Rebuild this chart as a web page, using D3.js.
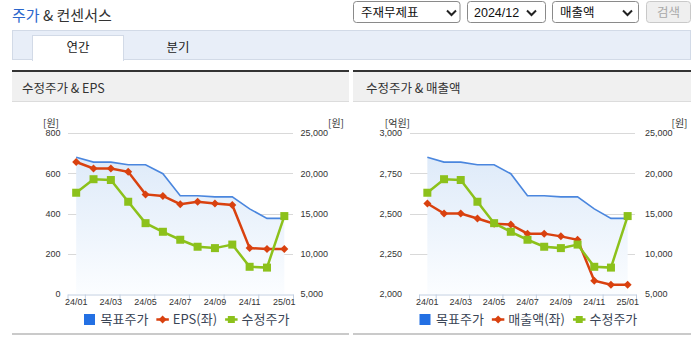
<!DOCTYPE html>
<html><head><meta charset="utf-8">
<script src="https://cdn.jsdelivr.net/npm/d3@7"></script>
<style>
html,body{margin:0;padding:0;background:#fff;}
svg{display:block;}
.kr{font-family:"Noto Sans CJK KR","Noto Sans",sans-serif;}
.num{font-family:"Liberation Sans",Arial,sans-serif;}
</style></head>
<body>
<svg id="c" width="699" height="339"></svg>
<script>
// ---------- data ----------
const months = ["24/01","24/02","24/03","24/04","24/05","24/06","24/07","24/08","24/09","24/10","24/11","24/12","25/01"];
const tickLabels = ["24/01","24/03","24/05","24/07","24/09","24/11","25/01"];
const targetPrice = [22000,21380,21380,21060,21060,19940,17200,17200,17060,17060,15580,14400,14400];
const adjPrice = [17580,19260,19160,16460,13800,12730,11740,10870,10700,11140,8380,8280,14680];
const eps = [656,624,624,607,495,487,446,458,450,442,228,223,223];
const revenue = [2562,2500,2500,2469,2437,2431,2375,2375,2358,2337,2083,2058,2058];
const epsTicks = [0,200,400,600,800];
const revTicks = [2000,2250,2500,2750,3000];
const priceTicks = [5000,10000,15000,20000,25000];
const selects = ["주재무제표","2024/12","매출액"];
const tabs = ["연간","분기"];

const C = {blue:"#4a86de", blueSq:"#2370e3", red:"#d9410f", green:"#8cc11b", grid:"#d9d9d9", axis:"#c3d0e2", text:"#333", legend:"#3a4556"};
const svg = d3.select("#c");
const fmt = d3.format(",");

// ---------- header ----------
const t = svg.append("text").attr("class","kr").attr("x",12).attr("y",20.5).attr("font-size",15);
t.append("tspan").attr("fill","#2a66cc").text("주가");
t.append("tspan").attr("fill","#333").text(" & 컨센서스");

const selBoxes = [{x:353.5,w:106.5,tx:361,cx:451.5},{x:467.5,w:78,tx:474,cx:531.5},{x:552.5,w:86,tx:560,cx:627.5}];
selBoxes.forEach((b,i)=>{
  svg.append("rect").attr("x",b.x).attr("y",1.5).attr("width",b.w).attr("height",21).attr("rx",3)
     .attr("fill","#fff").attr("stroke","#8a8a8a");
  svg.append("text").attr("class",i===1?"num":"kr").attr("x",b.tx).attr("y",16.5)
     .attr("font-size",12.5).attr("fill","#111").text(selects[i]);
  svg.append("path").attr("d",`M${b.cx-4.5},10.5L${b.cx},15L${b.cx+4.5},10.5`)
     .attr("fill","none").attr("stroke","#222").attr("stroke-width",2);
});
svg.append("rect").attr("x",646.5).attr("y",1.5).attr("width",44).attr("height",21).attr("rx",3)
   .attr("fill","#efefef").attr("stroke","#c9c9c9");
svg.append("text").attr("class","kr").attr("x",668.5).attr("y",16.5).attr("text-anchor","middle")
   .attr("font-size",12.5).attr("fill","#a8a8a8").text("검색");

// tabs
svg.append("rect").attr("x",12.5).attr("y",30.5).attr("width",678).attr("height",29)
   .attr("fill","#e8eef8").attr("stroke","#d2dae7");
svg.append("rect").attr("x",32.5).attr("y",35.5).attr("width",91).attr("height",25)
   .attr("fill","#fff").attr("stroke","#d2dae7");
svg.append("rect").attr("x",33).attr("y",58).attr("width",90).attr("height",3).attr("fill","#fff");
svg.append("text").attr("class","kr").attr("x",78).attr("y",51.5).attr("text-anchor","middle")
   .attr("font-size",12.5).attr("fill","#222").text(tabs[0]);
svg.append("text").attr("class","kr").attr("x",178).attr("y",51.5).attr("text-anchor","middle")
   .attr("font-size",12.5).attr("fill","#222").text(tabs[1]);

// ---------- chart panel ----------
function panel(o){
  const g = svg.append("g");
  g.append("rect").attr("x",o.px0).attr("y",70).attr("width",o.px1-o.px0).attr("height",2).attr("fill","#333");
  g.append("rect").attr("x",o.px0).attr("y",72).attr("width",o.px1-o.px0).attr("height",30).attr("fill","#f0f0f0");
  g.append("rect").attr("x",o.px0).attr("y",101).attr("width",o.px1-o.px0).attr("height",1).attr("fill","#dcdcdc");
  g.append("text").attr("class","kr").attr("x",o.titleX).attr("y",92.5).attr("font-size",12.5)
   .attr("fill","#333").text(o.title);
  g.append("rect").attr("x",o.px0).attr("y",333).attr("width",o.px1-o.px0).attr("height",2).attr("fill","#cacaca");

  const yTop=133, yBot=294;
  const x = d3.scaleBand().domain(months).range([o.ax0,o.ax1]).padding(0);
  const xb = d3.scaleLinear().domain([0,months.length]).range([o.ax0,o.ax1]);
  const cx = m => x(m)+x.bandwidth()/2;
  const yL = d3.scaleLinear().domain(o.leftDomain).range([yBot,yTop]);
  const yR = d3.scaleLinear().domain([5000,25000]).range([yBot,yTop]);

  // gradient
  const gid = "grad"+o.id;
  const grad = svg.append("defs").append("linearGradient").attr("id",gid)
    .attr("gradientUnits","userSpaceOnUse").attr("x1",0).attr("x2",0).attr("y1",yTop).attr("y2",yBot);
  grad.append("stop").attr("offset",0).attr("stop-color","#d9e7f8");
  grad.append("stop").attr("offset",1).attr("stop-color","#fbfdff");

  // grid
  g.selectAll(".gl").data(o.leftTicks.slice(1)).join("line")
   .attr("x1",o.gx0).attr("x2",o.gx1).attr("y1",d=>Math.round(yL(d))+0.5).attr("y2",d=>Math.round(yL(d))+0.5)
   .attr("stroke",C.grid);

  // area + target line
  const area = d3.area().x((d,i)=>cx(months[i])).y0(yBot).y1(d=>yR(d));
  g.append("path").attr("d",area(targetPrice)).attr("fill",`url(#${gid})`);
  const lineR = d3.line().x((d,i)=>cx(months[i])).y(d=>yR(d));
  g.append("path").attr("d",lineR(targetPrice)).attr("fill","none").attr("stroke",C.blue).attr("stroke-width",1.6);

  // x axis
  const axB = g.append("g").attr("transform",`translate(0,${yBot+0.5})`)
    .call(d3.axisBottom(xb).tickValues([0,1,3,5,7,9,11,13]).tickFormat("").tickSize(5).tickSizeOuter(0));
  axB.select(".domain").attr("stroke",C.axis);
  axB.selectAll(".tick line").attr("stroke",C.axis);
  const axL = g.append("g").attr("transform",`translate(0,${yBot})`)
    .call(d3.axisBottom(x).tickValues(tickLabels).tickSize(0).tickPadding(5));
  axL.select(".domain").remove();
  axL.selectAll("text").attr("class","num").attr("font-size",9).attr("fill",C.text);

  // left axis
  const aL = g.append("g").attr("transform",`translate(${o.lLabelX},0)`)
    .call(d3.axisLeft(yL).tickValues(o.leftTicks).tickSize(0).tickPadding(0).tickFormat(fmt));
  aL.select(".domain").remove();
  aL.selectAll("text").attr("class","num").attr("font-size",9).attr("fill",C.text);
  const aR = g.append("g").attr("transform",`translate(${o.rLabelX},0)`)
    .call(d3.axisRight(yR).tickValues(priceTicks).tickSize(0).tickPadding(0).tickFormat(fmt));
  aR.select(".domain").remove();
  aR.selectAll("text").attr("class","num").attr("font-size",9).attr("fill",C.text);
  g.append("text").attr("class","kr").attr("x",o.lUnitX).attr("y",126.5).attr("text-anchor","end")
   .attr("font-size",10).attr("fill",C.text).text(o.lUnit);
  g.append("text").attr("class","kr").attr("x",o.rUnitX).attr("y",126.5)
   .attr("font-size",10).attr("fill",C.text).text("[원]");

  // left series (red)
  const lineL = d3.line().x((d,i)=>cx(months[i])).y(d=>yL(d));
  g.append("path").attr("d",lineL(o.leftData)).attr("fill","none").attr("stroke",C.red).attr("stroke-width",2.5);
  g.selectAll(".dm").data(o.leftData).join("path")
   .attr("transform",(d,i)=>`translate(${cx(months[i])},${yL(d)})`)
   .attr("d","M0,-4L4,0L0,4L-4,0Z").attr("fill",C.red);

  // adjusted price (green)
  g.append("path").attr("d",lineR(adjPrice)).attr("fill","none").attr("stroke",C.green).attr("stroke-width",2.5);
  g.selectAll(".sq").data(adjPrice).join("rect")
   .attr("x",(d,i)=>cx(months[i])-4).attr("y",d=>yR(d)-4).attr("width",8).attr("height",8).attr("fill",C.green);

  // legend
  const lg = g.append("g");
  const items = [{t:"목표주가",k:"sq"},{t:o.leftName,k:"red"},{t:"수정주가",k:"green"}];
  let xx = 0; const ly = 319.5; const pos=[];
  items.forEach((it,i)=>{
    const tx = lg.append("text").attr("class","kr").attr("x",xx+16.5).attr("y",ly+4.5)
      .attr("font-size",13).attr("fill",C.legend).text(it.t);
    pos.push(xx);
    xx += 16.5 + tx.node().getComputedTextLength() + 8;
  });
  items.forEach((it,i)=>{
    const s = pos[i];
    if(it.k==="sq") lg.append("rect").attr("x",s).attr("y",ly-5.5).attr("width",11).attr("height",11).attr("fill",C.blueSq);
    if(it.k==="red"){
      lg.append("line").attr("x1",s).attr("x2",s+12.5).attr("y1",ly).attr("y2",ly).attr("stroke",C.red).attr("stroke-width",2.5);
      lg.append("path").attr("transform",`translate(${s+6.25},${ly})`).attr("d","M0,-4L4,0L0,4L-4,0Z").attr("fill",C.red);
    }
    if(it.k==="green"){
      lg.append("line").attr("x1",s).attr("x2",s+12.5).attr("y1",ly).attr("y2",ly).attr("stroke",C.green).attr("stroke-width",2.5);
      lg.append("rect").attr("x",s+2.75).attr("y",ly-3.5).attr("width",7).attr("height",7).attr("fill",C.green);
    }
  });
  lg.attr("transform",`translate(${o.legendX0},0)`);
}

panel({id:"L",px0:12,px1:349,title:"수정주가 & EPS",titleX:22,ax0:67.5,ax1:293,gx0:68,gx1:293,
  leftDomain:[0,800],leftTicks:epsTicks,leftData:eps,leftName:"EPS(좌)",
  lLabelX:60.5,rLabelX:300.5,lUnit:"[원]",lUnitX:59,rUnitX:328,legendX0:84});
panel({id:"R",px0:353,px1:691,title:"수정주가 & 매출액",titleX:366,ax0:419,ax1:636,gx0:410,gx1:635,
  leftDomain:[2000,3000],leftTicks:revTicks,leftData:revenue,leftName:"매출액(좌)",
  lLabelX:402,rLabelX:645,lUnit:"[억원]",lUnitX:410,rUnitX:671.5,legendX0:419.5});
</script>
</body></html>
